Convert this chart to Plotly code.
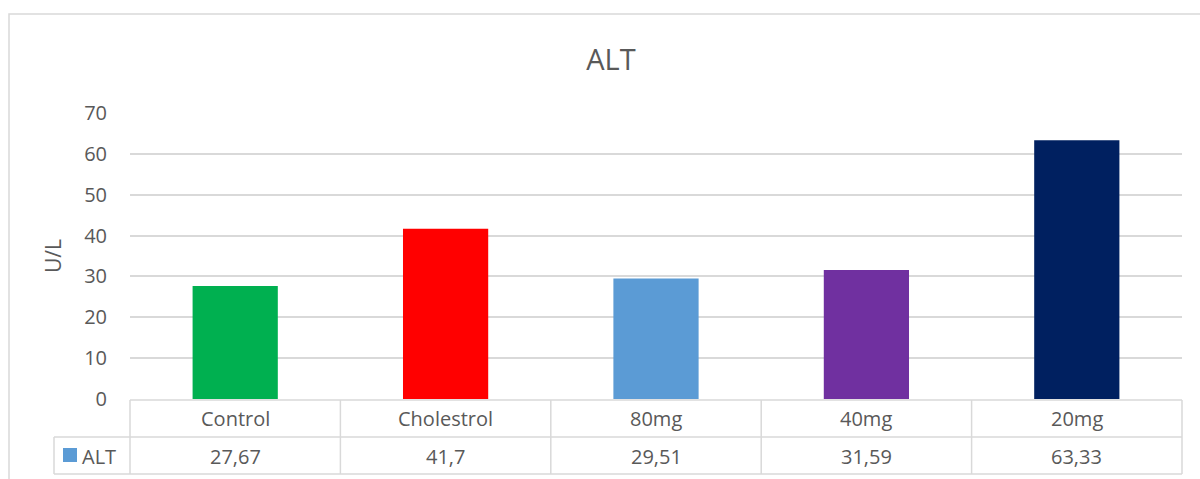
import plotly.graph_objects as go

categories = ["Control", "Cholestrol", "80mg", "40mg", "20mg"]
values = [27.67, 41.7, 29.51, 31.59, 63.33]
value_labels = ["27,67", "41,7", "29,51", "31,59", "63,33"]
bar_colors = ["#00B050", "#FF0000", "#5B9BD5", "#7030A0", "#002060"]
series_name = "ALT"
y_ticks = [0, 10, 20, 30, 40, 50, 60, 70]

W, H = 1200, 479
L, R, T, B = 130, 18, 113, 80
PW, PH = W - L - R, H - T - B
FONT = "Open Sans"
TXT = "#595959"
GRID = "#D9D9D9"
FS = 20


def xp(px):
    return (px - L) / PW


def yp(py):
    return (H - B - py) / PH


fig = go.Figure()
fig.add_trace(go.Bar(x=categories, y=values, marker=dict(color=bar_colors, line=dict(width=0)),
                     name=series_name, showlegend=False, width=0.405))

shapes = []
line = dict(color=GRID, width=1.5)
# outer chart border
shapes.append(dict(type="rect", xref="paper", yref="paper", x0=xp(9), x1=xp(1215),
                   y0=yp(495), y1=yp(14), line=dict(color=GRID, width=1.5)))
# table horizontal lines
shapes.append(dict(type="line", xref="paper", yref="paper", x0=xp(130), x1=xp(1182), y0=yp(400), y1=yp(400), line=line))
for py in (437, 474):
    shapes.append(dict(type="line", xref="paper", yref="paper", x0=xp(54), x1=xp(1182), y0=yp(py), y1=yp(py), line=line))
# table vertical lines
shapes.append(dict(type="line", xref="paper", yref="paper", x0=xp(54), x1=xp(54), y0=yp(437), y1=yp(474), line=line))
n = len(categories)
for i in range(n + 1):
    px = L + PW * i / n
    shapes.append(dict(type="line", xref="paper", yref="paper", x0=xp(px), x1=xp(px), y0=yp(400), y1=yp(474), line=line))
# legend key
shapes.append(dict(type="rect", xref="paper", yref="paper", x0=xp(63), x1=xp(77), y0=yp(462), y1=yp(448),
                   fillcolor="#5B9BD5", line=dict(width=0)))

annotations = []
for c, v in zip(categories, value_labels):
    annotations.append(dict(x=c, xref="x", yref="paper", y=yp(418), text=c, showarrow=False,
                            font=dict(family=FONT, size=FS, color=TXT), yanchor="middle"))
    annotations.append(dict(x=c, xref="x", yref="paper", y=yp(456), text=v, showarrow=False,
                            font=dict(family=FONT, size=FS, color=TXT), yanchor="middle"))
annotations.append(dict(x=xp(80), xref="paper", yref="paper", y=yp(456), text=series_name, showarrow=False,
                        xanchor="left", yanchor="middle", font=dict(family=FONT, size=FS, color=TXT)))

fig.update_layout(
    width=W, height=H,
    margin=dict(l=L, r=R, t=T, b=B),
    paper_bgcolor="white", plot_bgcolor="white",
    title=dict(text="ALT", x=611 / W, xanchor="center", y=1 - 60 / H, yanchor="middle",
               font=dict(family=FONT, size=29, color=TXT)),
    xaxis=dict(showticklabels=False, showgrid=False, showline=False, zeroline=False, ticks=""),
    yaxis=dict(range=[0, 70], tickvals=y_ticks, showgrid=True, gridcolor=GRID, gridwidth=1.5,
               zeroline=False, showline=False, ticks="", ticklabelstandoff=22,
               tickfont=dict(family=FONT, size=FS, color=TXT),
               title=dict(text="U/L", font=dict(family=FONT, size=21, color=TXT), standoff=16)),
    shapes=shapes, annotations=annotations,
    bargap=0.595,
)
fig.write_html("out.html")
